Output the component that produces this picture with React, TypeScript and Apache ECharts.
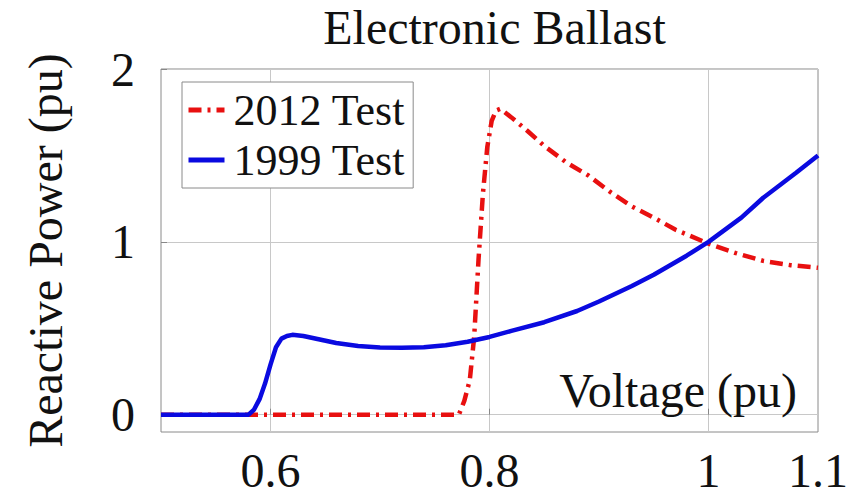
import React, { useEffect, useRef } from "react";
import * as echarts from "echarts";

const FONT = "Liberation Serif";

const chartTitle = "Electronic Ballast";
const xAxisTitle = "Voltage (pu)";
const yAxisTitle = "Reactive Power (pu)";
const seriesNames = ["2012 Test", "1999 Test"];

const xTickLabels = [0.6, 0.8, 1, 1.1];
const xGridValues = [0.6, 0.8, 1];
const yTickLabels = [0, 1, 2];

// 1999 Test (blue, solid)
const voltage1999 = [
  0.5, 0.58, 0.585, 0.59, 0.595, 0.6, 0.605, 0.61, 0.615, 0.62, 0.63, 0.645,
  0.66, 0.68, 0.7, 0.72, 0.74, 0.76, 0.78, 0.8, 0.82, 0.85, 0.88, 0.9, 0.93,
  0.95, 0.98, 1.0, 1.03, 1.05, 1.08, 1.1,
];
const q1999 = [
  0, 0, 0.03, 0.09, 0.18, 0.29, 0.39, 0.44, 0.455, 0.462, 0.455, 0.435,
  0.415, 0.398, 0.389, 0.387, 0.39, 0.402, 0.422, 0.45, 0.485, 0.535, 0.6,
  0.655, 0.745, 0.81, 0.92, 1.0, 1.14, 1.255, 1.4, 1.5,
];

// 2012 Test (red, dash-dot)
const voltage2012 = [
  0.5, 0.772, 0.777, 0.782, 0.786, 0.79, 0.794, 0.798, 0.802, 0.806, 0.81,
  0.82, 0.835, 0.85, 0.87, 0.89, 0.91, 0.93, 0.95, 0.97, 1.0, 1.025, 1.05,
  1.075, 1.1,
];
const q2012 = [
  0, 0, 0.08, 0.2, 0.45, 0.9, 1.28, 1.55, 1.7, 1.76, 1.77, 1.72, 1.64, 1.555,
  1.46, 1.385, 1.29, 1.205, 1.14, 1.07, 0.99, 0.935, 0.89, 0.865, 0.85,
];

const pairs = (xs: number[], ys: number[]) => xs.map((x, i) => [x, ys[i]]);

export default function App() {
  const ref = useRef<HTMLDivElement>(null);

  useEffect(() => {
    const chart = echarts.init(ref.current!, null, { renderer: "svg" });
    chart.setOption({
      animation: false,
      backgroundColor: "#ffffff",
      textStyle: { fontFamily: FONT },
      title: {
        text: chartTitle,
        left: 489.5,
        textAlign: "center",
        top: -2,
        textStyle: {
          fontFamily: FONT,
          fontSize: 48,
          fontWeight: "normal",
          color: "#111",
        },
      },
      grid: {
        left: 161,
        top: 69,
        width: 657,
        height: 363,
        show: true,
        borderColor: "#8a8a8a",
        borderWidth: 1,
        backgroundColor: "transparent",
      },
      legend: {
        data: seriesNames,
        orient: "vertical",
        left: 182,
        top: 82,
        padding: [6, 8, 6, 4],
        itemGap: 6,
        itemWidth: 36,
        itemHeight: 14,
        borderColor: "#8a8a8a",
        borderWidth: 1,
        backgroundColor: "#ffffff",
        itemStyle: { opacity: 0 },
        lineStyle: { width: 5 },
        textStyle: {
          fontFamily: FONT,
          fontSize: 44,
          color: "#111",
          padding: [0, 0, 0, 4],
        },
      },
      xAxis: {
        type: "value",
        min: 0.5,
        max: 1.1,
        axisLine: { show: false },
        axisTick: {
          show: true,
          inside: true,
          length: 6,
          customValues: xGridValues,
          lineStyle: { color: "#888" },
        },
        axisLabel: {
          customValues: xTickLabels,
          fontFamily: FONT,
          fontSize: 48,
          color: "#111",
          margin: 14,
          formatter: (v: number) => String(+v.toFixed(2)),
        },
        splitLine: { show: true, lineStyle: { color: "#c8c8c8", width: 1 } },
      },
      yAxis: {
        type: "value",
        min: -0.1,
        max: 2,
        name: yAxisTitle,
        nameLocation: "middle",
        nameGap: 92,
        nameTextStyle: { fontFamily: FONT, fontSize: 48, color: "#111" },
        axisLine: { show: false },
        axisTick: {
          show: true,
          inside: true,
          length: 6,
          customValues: yTickLabels,
          lineStyle: { color: "#888" },
        },
        axisLabel: {
          customValues: yTickLabels,
          fontFamily: FONT,
          fontSize: 48,
          color: "#111",
          margin: 26,
        },
        splitLine: { show: true, lineStyle: { color: "#c8c8c8", width: 1 } },
      },
      graphic: [
        {
          type: "text",
          right: 857 - 797,
          top: 366,
          style: {
            text: xAxisTitle,
            fontFamily: FONT,
            fontSize: 48,
            fill: "#111",
          },
          z: 5,
        },
      ],
      series: [
        {
          name: seriesNames[0],
          type: "line",
          data: pairs(voltage2012, q2012),
          symbol: "none",
          z: 3,
          lineStyle: { color: "#e81010", width: 4.5, type: [13, 6, 3, 6] },
          itemStyle: { color: "#e81010" },
        },
        {
          name: seriesNames[1],
          type: "line",
          data: pairs(voltage1999, q1999),
          symbol: "none",
          z: 4,
          lineStyle: { color: "#0a0ae0", width: 4.5, type: "solid" },
          itemStyle: { color: "#0a0ae0" },
        },
      ],
    });
    return () => chart.dispose();
  }, []);

  return (
    <div
      ref={ref}
      style={{
        position: "fixed",
        left: 0,
        top: 0,
        width: 857,
        height: 496,
        background: "#fff",
      }}
    />
  );
}
